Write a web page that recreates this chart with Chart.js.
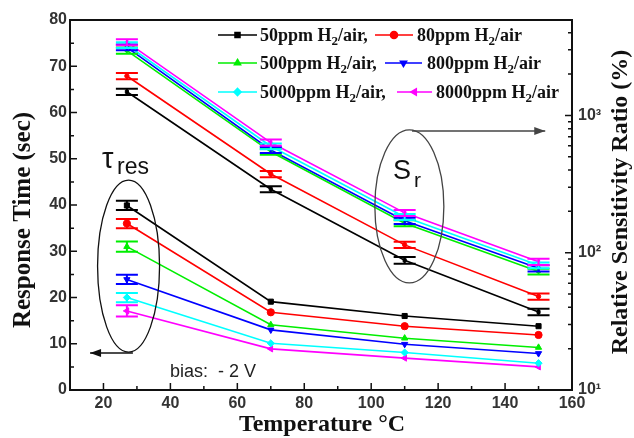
<!DOCTYPE html>
<html><head><meta charset="utf-8">
<script src="https://cdn.jsdelivr.net/npm/chart.js@4"></script>
<style>html,body{margin:0;padding:0;background:#fff}#wrap{width:634px;height:438px}</style>
</head><body><div id="wrap"><canvas id="c" width="634" height="438"></canvas></div>
<script>
// ---- data ----
const temperatures = [27, 70, 110, 150];
const concLabels = ['50ppm', '80ppm', '500ppm', '800ppm', '5000ppm', '8000ppm'];
// response time (sec), left axis
const resp50 = [39.9, 19.1, 16.0, 13.8];
const resp80 = [36.0, 16.8, 13.8, 11.9];
const resp500 = [31.0, 14.1, 11.2, 9.2];
const resp800 = [23.9, 13.0, 9.9, 7.9];
const resp5000 = [20.0, 10.1, 8.1, 5.8];
const resp8000 = [17.1, 8.9, 6.9, 5.0];
const respErr50 = [1.0, 0, 0, 0];
const respErr80 = [1.0, 0, 0, 0];
const respErr500 = [1.1, 0, 0, 0];
const respErr800 = [1.0, 0, 0, 0];
const respErr5000 = [1.0, 0, 0, 0];
const respErr8000 = [1.2, 0, 0, 0];
// relative sensitivity ratio (%), right log axis
const sens50 = [1486, 290, 88, 37];
const sens80 = [1936, 374, 114, 48];
const sens500 = [2965, 543, 164, 73];
const sens800 = [3130, 560, 171, 77];
const sens5000 = [3255, 596, 182, 81];
const sens8000 = [3412, 634, 195, 86];
const sensErr50 = [80, 15, 5, 2];
const sensErr80 = [100, 19, 6, 2.5];
const sensErr500 = [150, 27, 8, 3.5];
const sensErr800 = [155, 28, 9, 4];
const sensErr5000 = [160, 29, 9, 4];
const sensErr8000 = [170, 32, 10, 4.5];
// ticks
const xTickValues = [20, 40, 60, 80, 100, 120, 140, 160];
const yTickValues = [0, 10, 20, 30, 40, 50, 60, 70, 80];
const y2TickValues = [10, 100, 1000];
const y2TickLabels = ['10\u00b9', '10\u00b2', '10\u00b3'];

// ---- styles ----
const colors = ['#000000', '#ff0000', '#00ee00', '#0000ff', '#00ffff', '#ff00ff'];
const pStyles = ['rect', 'circle', 'triangle', 'triangle', 'rectRot', 'triangle'];
const pRot = [0, 0, 0, 180, 0, -90];
const respSets = [resp50, resp80, resp500, resp800, resp5000, resp8000];
const respErrs = [respErr50, respErr80, respErr500, respErr800, respErr5000, respErr8000];
const sensSets = [sens50, sens80, sens500, sens800, sens5000, sens8000];
const sensErrs = [sensErr50, sensErr80, sensErr500, sensErr800, sensErr5000, sensErr8000];

const datasets = [];
respSets.forEach((arr, i) => datasets.push({
  label: concLabels[i] + ' resp', yAxisID: 'y', errs: respErrs[i],
  data: temperatures.map((t, k) => ({x: t, y: arr[k]})),
  borderColor: colors[i], backgroundColor: colors[i], borderWidth: 1.6,
  pointStyle: pStyles[i], pointRotation: pRot[i], pointRadius: 3.6, pointBorderWidth: 1
}));
sensSets.forEach((arr, i) => datasets.push({
  label: concLabels[i] + ' sens', yAxisID: 'y2', errs: sensErrs[i],
  data: temperatures.map((t, k) => ({x: t, y: arr[k]})),
  borderColor: colors[i], backgroundColor: colors[i], borderWidth: 1.6,
  pointStyle: pStyles[i], pointRotation: pRot[i], pointRadius: 2.2, pointBorderWidth: 1
}));

const tickFont = {family: 'Liberation Sans, Arial, sans-serif', size: 16, weight: 'bold'};
const tickColor = '#333';

const errorBars = {
  id: 'errorBars',
  afterDatasetsDraw(chart) {
    const ctx = chart.ctx, xs = chart.scales.x;
    chart.data.datasets.forEach(ds => {
      const ys = chart.scales[ds.yAxisID];
      ctx.save();
      ctx.strokeStyle = ds.borderColor; ctx.lineWidth = 2;
      ds.data.forEach((p, k) => {
        const e = ds.errs[k];
        if (!e) return;
        const px = xs.getPixelForValue(p.x);
        const y1 = ys.getPixelForValue(p.y - e), y2 = ys.getPixelForValue(p.y + e);
        const hw = 11;
        ctx.beginPath();
        ctx.moveTo(px, y1); ctx.lineTo(px, y2);
        ctx.moveTo(px - hw, y1); ctx.lineTo(px + hw, y1);
        ctx.moveTo(px - hw, y2); ctx.lineTo(px + hw, y2);
        ctx.stroke();
      });
      ctx.restore();
    });
  }
};

function arrow(ctx, x1, y1, x2, y2, color) {
  ctx.save();
  ctx.strokeStyle = color; ctx.fillStyle = color; ctx.lineWidth = 1.5;
  ctx.beginPath(); ctx.moveTo(x1, y1); ctx.lineTo(x2, y2); ctx.stroke();
  const ang = Math.atan2(y2 - y1, x2 - x1), L = 11, W = 4;
  ctx.beginPath();
  ctx.moveTo(x2, y2);
  ctx.lineTo(x2 - L * Math.cos(ang) + W * Math.sin(ang), y2 - L * Math.sin(ang) - W * Math.cos(ang));
  ctx.lineTo(x2 - L * Math.cos(ang) - W * Math.sin(ang), y2 - L * Math.sin(ang) + W * Math.cos(ang));
  ctx.closePath(); ctx.fill();
  ctx.restore();
}

function drawSubText(ctx, parts, x, y) {
  let cx = x;
  parts.forEach(([t, fs, dy]) => {
    ctx.font = 'bold ' + fs + 'px "Liberation Serif", "Times New Roman", serif';
    ctx.fillText(t, cx, y + dy);
    cx += ctx.measureText(t).width;
  });
}

const decor = {
  id: 'decor',
  afterDraw(chart) {
    const ctx = chart.ctx, a = chart.chartArea;
    const xs = chart.scales.x, ys = chart.scales.y, y2 = chart.scales.y2;
    ctx.save();
    // frame
    ctx.strokeStyle = '#111'; ctx.lineWidth = 2;
    ctx.strokeRect(a.left, a.top, a.right - a.left, a.bottom - a.top);
    ctx.lineWidth = 1.5;
    ctx.beginPath();
    for (let v = 0; v <= 80; v += 5) {
      const py = ys.getPixelForValue(v), len = v % 10 === 0 ? 7 : 4;
      ctx.moveTo(a.left, py); ctx.lineTo(a.left + len, py);
    }
    for (let v = 10; v <= 160; v += 10) {
      const px = xs.getPixelForValue(v), len = v % 20 === 0 ? 7 : 4;
      ctx.moveTo(px, a.bottom); ctx.lineTo(px, a.bottom - len);
    }
    [10, 100, 1000].forEach(d => {
      for (let m = 1; m <= 9; m++) {
        const v = d * m;
        if (v > y2.max) break;
        const py = y2.getPixelForValue(v), len = m === 1 ? 7 : 4;
        ctx.moveTo(a.right, py); ctx.lineTo(a.right - len, py);
      }
    });
    ctx.stroke();

    // ellipses
    ctx.strokeStyle = '#111'; ctx.lineWidth = 1.3;
    ctx.beginPath();
    ctx.ellipse(xs.getPixelForValue(27.5), ys.getPixelForValue(26.8), 31, 86, 0, 0, Math.PI * 2);
    ctx.stroke();
    arrow(ctx, xs.getPixelForValue(28.8), ys.getPixelForValue(8), xs.getPixelForValue(16), ys.getPixelForValue(8), '#111');
    ctx.strokeStyle = '#444';
    ctx.beginPath();
    ctx.ellipse(xs.getPixelForValue(111.4), ys.getPixelForValue(39.7), 34.5, 76.5, 0, 0, Math.PI * 2);
    ctx.stroke();
    arrow(ctx, xs.getPixelForValue(112.2), ys.getPixelForValue(56), xs.getPixelForValue(152), ys.getPixelForValue(56), '#444');

    // labels inside
    ctx.fillStyle = '#111';
    ctx.textBaseline = 'alphabetic'; ctx.textAlign = 'left';
    ctx.font = '29px "Liberation Sans", Arial, sans-serif';
    ctx.fillText('\u03c4', 102, 168);
    ctx.font = '23px "Liberation Sans", Arial, sans-serif';
    ctx.fillText('res', 117, 174);
    ctx.font = '27px "Liberation Sans", Arial, sans-serif';
    ctx.fillText('S', 393, 179);
    ctx.font = '21px "Liberation Sans", Arial, sans-serif';
    ctx.fillText('r', 414, 187);
    ctx.fillStyle = '#222';
    ctx.font = '18px "Liberation Sans", Arial, sans-serif';
    ctx.fillText('bias:  - 2 V', 170, 377);

    // legend
    const rows = [[35, 0, 1], [63, 2, 3], [92, 4, 5]];
    const cols = [[218, 257, 260], [[375, 413, 417], [385, 422, 427], [397, 432, 436]]];
    rows.forEach(([ry, i1, i2], r) => {
      [[i1, cols[0]], [i2, cols[1][r]]].forEach(([idx, c], ci) => {
        ctx.strokeStyle = colors[idx]; ctx.lineWidth = 1.6;
        ctx.beginPath(); ctx.moveTo(c[0], ry); ctx.lineTo(c[1], ry); ctx.stroke();
        ctx.fillStyle = colors[idx];
        Chart.helpers.drawPoint(ctx, {pointStyle: pStyles[idx], rotation: pRot[idx], radius: 3.5, borderWidth: 1}, (c[0] + c[1]) / 2, ry);
        ctx.fillStyle = '#111';
        drawSubText(ctx, [[concLabels[idx] + ' H', 18, 0], ['2', 13, 4], ['/air' + (ci === 0 ? ',' : ''), 18, 0]], c[2], ry + 6);
      });
    });

    // axis titles
    ctx.fillStyle = '#111';
    ctx.font = 'bold 24px "Liberation Serif", "Times New Roman", serif';
    ctx.textAlign = 'center'; ctx.textBaseline = 'middle';
    ctx.fillText('Temperature \u00b0C', 322, 425);
    ctx.save();
    ctx.translate(24, 220); ctx.rotate(-Math.PI / 2);
    ctx.font = 'bold 25px "Liberation Serif", "Times New Roman", serif';
    ctx.fillText('Response Time (sec)', 0, 0);
    ctx.restore();
    ctx.save();
    ctx.translate(621, 202); ctx.rotate(-Math.PI / 2);
    ctx.font = 'bold 24px "Liberation Serif", "Times New Roman", serif';
    ctx.fillText('Relative Sensitivity Ratio (%)', 0, 0);
    ctx.restore();
    ctx.restore();
  }
};

new Chart(document.getElementById('c'), {
  type: 'line',
  data: {datasets},
  options: {
    responsive: false, animation: false, devicePixelRatio: 1,
    layout: {padding: {top: 20, left: 0, right: 0, bottom: 0}},
    plugins: {legend: {display: false}, tooltip: {enabled: false}},
    scales: {
      x: {
        type: 'linear', min: 10, max: 160,
        afterBuildTicks: s => { s.ticks = xTickValues.map(v => ({value: v})); },
        afterFit: s => { s.height = 48; },
        grid: {display: false, drawTicks: false}, border: {display: false},
        ticks: {font: tickFont, color: tickColor, padding: 4, maxRotation: 0, autoSkip: false}
      },
      y: {
        type: 'linear', position: 'left', min: 0, max: 80,
        afterBuildTicks: s => { s.ticks = yTickValues.map(v => ({value: v})); },
        afterFit: s => { s.width = 70; },
        grid: {display: false, drawTicks: false}, border: {display: false},
        ticks: {font: tickFont, color: tickColor, padding: 3, autoSkip: false}
      },
      y2: {
        type: 'logarithmic', position: 'right', min: 10, max: 4950,
        afterBuildTicks: s => { s.ticks = y2TickValues.map(v => ({value: v})); },
        afterFit: s => { s.width = 62; },
        grid: {display: false, drawTicks: false}, border: {display: false},
        ticks: {font: tickFont, color: tickColor, padding: 6, autoSkip: false,
          callback: v => { const i = y2TickValues.indexOf(v); return i >= 0 ? y2TickLabels[i] : ''; }}
      }
    }
  },
  plugins: [errorBars, decor]
});
</script></body></html>
